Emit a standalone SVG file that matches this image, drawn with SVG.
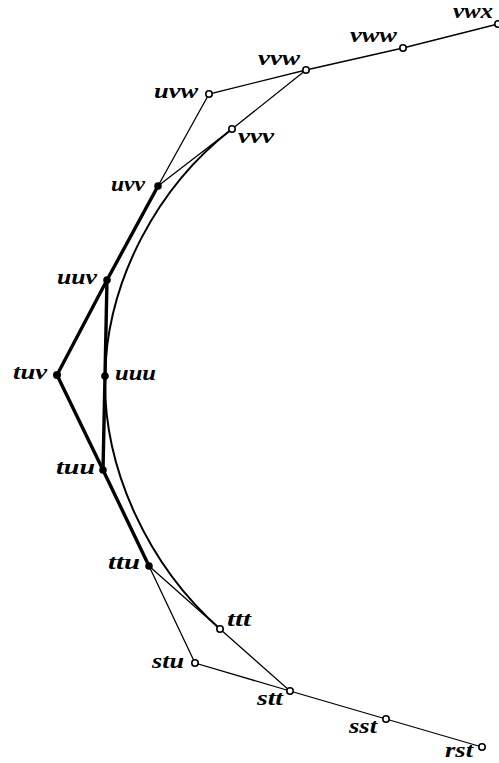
<svg xmlns="http://www.w3.org/2000/svg" width="499" height="763" viewBox="0 0 499 763">
<style>
.thin{stroke:#000;stroke-width:1.3;fill:none}
.thick{stroke:#000;stroke-width:3.4;fill:none;stroke-linecap:round;stroke-linejoin:round}
.curve{stroke:#000;stroke-width:2;fill:none}
.open{fill:#fff;stroke:#000;stroke-width:1.6}
.full{fill:#000}
text{font-family:"Liberation Serif","DejaVu Serif",serif;font-style:italic;font-weight:bold;font-size:21px;fill:#000}
</style>
<rect width="499" height="763" fill="#fff"/>
<g id="connectors">
<polyline class="thin" points="498,24 403,48 306,70 209,94 158,186"/>
<polyline class="thin" points="306,70 232,129 158,186"/>
<path class="curve" d="M232,129 C158,186 107,280 105,376 C103,470 149,566 220,629"/>
<polyline class="thin" points="149,566 220,629 290,691 386,719 482,747"/>
<polyline class="thin" points="149,566 195,663 290,691"/>
<polyline class="thick" points="158,186 107,280 57,375 103,470 149,566"/>
<polyline class="thick" points="107,280 105,376 103,470"/>
</g>
<g id="n-vwx"><circle class="open" cx="498" cy="24" r="3.2"/><text x="453" y="18" textLength="40" lengthAdjust="spacingAndGlyphs">vwx</text></g>
<g id="n-vww"><circle class="open" cx="403" cy="48" r="3.2"/><text x="350" y="42" textLength="47" lengthAdjust="spacingAndGlyphs">vww</text></g>
<g id="n-vvw"><circle class="open" cx="306" cy="70" r="3.2"/><text x="258" y="65" textLength="42" lengthAdjust="spacingAndGlyphs">vvw</text></g>
<g id="n-uvw"><circle class="open" cx="209" cy="94" r="3.2"/><text x="154" y="98" textLength="44" lengthAdjust="spacingAndGlyphs">uvw</text></g>
<g id="n-vvv"><circle class="open" cx="232" cy="129" r="3.2"/><text x="238" y="143" textLength="36" lengthAdjust="spacingAndGlyphs">vvv</text></g>
<g id="n-uvv"><circle class="full" cx="158" cy="186" r="3.8"/><text x="111" y="191" textLength="34" lengthAdjust="spacingAndGlyphs">uvv</text></g>
<g id="n-uuv"><circle class="full" cx="107" cy="280" r="3.8"/><text x="57" y="284" textLength="40" lengthAdjust="spacingAndGlyphs">uuv</text></g>
<g id="n-tuv"><circle class="full" cx="57" cy="375" r="4"/><text x="13" y="379" textLength="34" lengthAdjust="spacingAndGlyphs">tuv</text></g>
<g id="n-uuu"><circle class="full" cx="105" cy="376" r="3.8"/><text x="115" y="380" textLength="41" lengthAdjust="spacingAndGlyphs">uuu</text></g>
<g id="n-tuu"><circle class="full" cx="103" cy="470" r="3.8"/><text x="56" y="474" textLength="39" lengthAdjust="spacingAndGlyphs">tuu</text></g>
<g id="n-ttu"><circle class="full" cx="149" cy="566" r="3.8"/><text x="108" y="569" textLength="32" lengthAdjust="spacingAndGlyphs">ttu</text></g>
<g id="n-ttt"><circle class="open" cx="220" cy="629" r="3.2"/><text x="227" y="626" textLength="24" lengthAdjust="spacingAndGlyphs">ttt</text></g>
<g id="n-stu"><circle class="open" cx="195" cy="663" r="3.2"/><text x="152" y="668" textLength="32" lengthAdjust="spacingAndGlyphs">stu</text></g>
<g id="n-stt"><circle class="open" cx="290" cy="691" r="3.2"/><text x="257" y="705" textLength="26" lengthAdjust="spacingAndGlyphs">stt</text></g>
<g id="n-sst"><circle class="open" cx="386" cy="719" r="3.2"/><text x="349" y="733" textLength="28" lengthAdjust="spacingAndGlyphs">sst</text></g>
<g id="n-rst"><circle class="open" cx="482" cy="747" r="3.2"/><text x="445" y="757" textLength="28" lengthAdjust="spacingAndGlyphs">rst</text></g>
</svg>
